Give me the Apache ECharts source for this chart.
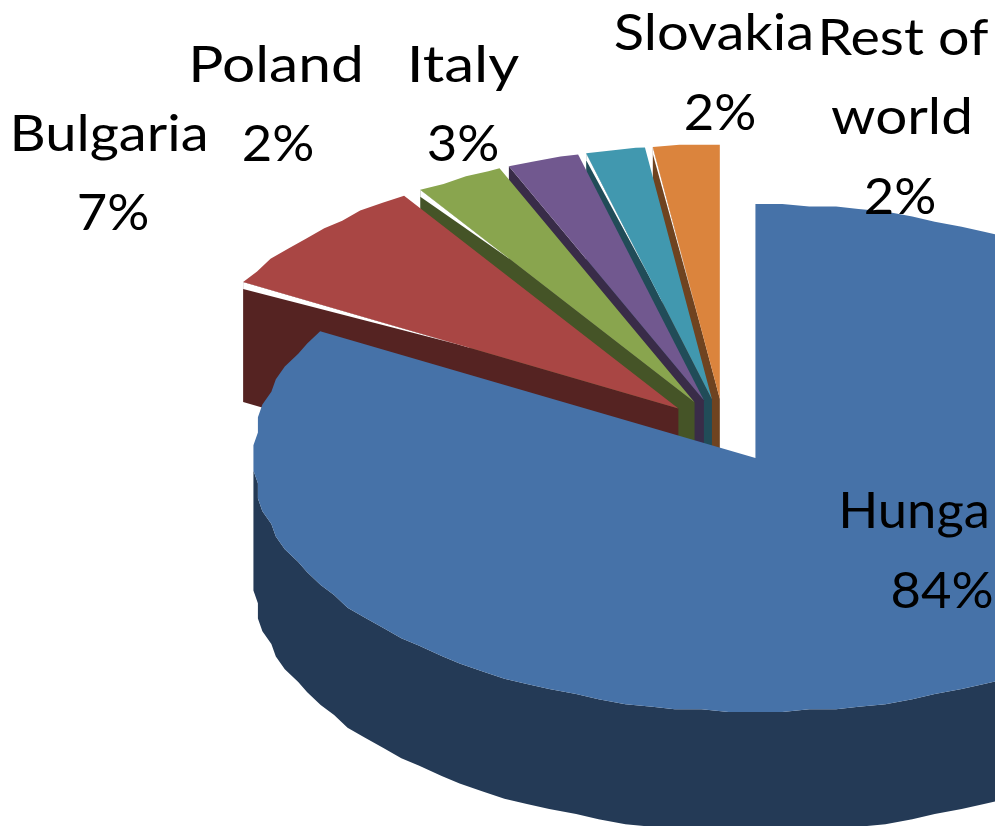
<!DOCTYPE html>
<html>
<head>
<meta charset="utf-8">
<style>
  html, body { margin: 0; padding: 0; background: #fff; overflow: hidden; }
  #chart { width: 995px; height: 826px; }
</style>
<script src="https://cdn.jsdelivr.net/npm/echarts@6/dist/echarts.min.js"></script>
</head>
<body>
<div id="chart"></div>
<script>
// data (the share labels are rounded, the slices are not)
let categories = ["Hunga", "Bulgaria", "Poland", "Italy", "Slovakia", "Rest of\nworld"];
let sliceValues = [83.3, 7.5, 2.85, 2.32, 1.9, 2.13];
let shareLabels = ["84%", "7%", "2%", "3%", "2%", "2%"];

// colours, top face then side face
let topColors = ["#4672a8", "#a94644", "#89a54e", "#71588f", "#4198af", "#db843d"];
let sideColors = ["#243a56", "#552322", "#455427", "#392c48", "#214c58", "#6f4320"];

// label lines: [center x, baseline y, width stretch] for every line of a label
let labelSpots = [
  [[914, 527, 1.03], [942, 607, 1.03]],
  [[109, 150, 1.1], [113, 229, 1.03]],
  [[276, 81, 1.15], [278, 160, 1.03]],
  [[463, 81, 1.18], [463, 160, 1.03]],
  [[714, 49, 1.1], [720, 129, 1.03]],
  [[903, 54, 1.09], [902, 133, 1.11], [900, 213, 1.03]]
];

// how far along the cut edge the white sliver runs
let sliverLength = [0, 0.49, 0.33, 0, 0.5, 0.7];

// pie look
let pieX = 724, pieY = 430.4, radX = 502, radY = 254;
let explode = 0.125, depth = 120, arcStep = 3;
let gridX = 112, gridY = 100; // the rim is stepped, not a clean ellipse
let fontSize = 51, baselineDrop = 10;

let d = document;
let chart = echarts.init(d.getElementById("chart"), null, { renderer: "canvas" });

let total = sliceValues.reduce((a, b) => a + b, 0);
let slices = [];
let acc = 0;
sliceValues.forEach((v, i) => {
  let start = acc / total * 360;
  acc += v;
  let end = acc / total * 360;
  let mid = (start + end) / 2 * Math.PI / 180;
  slices.push({
    start: start,
    end: end,
    apexX: pieX + explode * radX * Math.sin(mid),
    apexY: pieY - explode * radY * Math.cos(mid)
  });
});

function onRim(s, ang, down, stepped) {
  let a = ang * Math.PI / 180;
  let sx = Math.sin(a), cy = Math.cos(a);
  if (stepped) {
    sx = Math.round(sx * gridX) / gridX;
    cy = Math.round(cy * gridY) / gridY;
  }
  return [s.apexX + radX * sx, s.apexY - radY * cy + (down || 0)];
}

function rim(s, from, to, down) {
  let pts = [onRim(s, from, down)];
  let ang = from + arcStep;
  while (ang < to) {
    pts.push(onRim(s, ang, down, true));
    ang += arcStep;
  }
  pts.push(onRim(s, to, down));
  return pts;
}

function poly(points, fill) {
  return { type: "polygon", shape: { points: points }, style: { fill: fill }, silent: true };
}

function drawSlice(i) {
  let s = slices[i];
  let kids = [];

  // cut face on the start edge, the next slice covers most of it
  let outer = onRim(s, s.start);
  kids.push(poly([
    [s.apexX, s.apexY], outer,
    [outer[0], outer[1] + depth], [s.apexX, s.apexY + depth]
  ], sideColors[i]));

  // outer wall, only the front half shows
  let from = Math.max(s.start, 90), to = Math.min(s.end, 270);
  if (from < to) {
    let wall = rim(s, from, to, 0).concat(rim(s, from, to, depth).reverse());
    kids.push(poly(wall, sideColors[i]));
  }

  // thin white sliver between top and cut face
  if (sliverLength[i] > 0) {
    let f = sliverLength[i];
    kids.push(poly([
      outer, [outer[0], outer[1] + 7],
      [outer[0] + (s.apexX - outer[0]) * f, outer[1] + (s.apexY - outer[1]) * f]
    ], "#fff"));
  }

  // top
  kids.push(poly([[s.apexX, s.apexY]].concat(rim(s, s.start, s.end)), topColors[i]));
  return kids;
}

function drawLabels() {
  let kids = [];
  categories.forEach((name, i) => {
    let lines = name.split("\n").concat(shareLabels[i]);
    lines.forEach((line, j) => {
      let spot = labelSpots[i][j];
      kids.push({
        type: "text",
        x: spot[0],
        y: spot[1] + baselineDrop,
        scaleX: spot[2],
        silent: true,
        style: {
          text: line,
          fill: "#000",
          font: fontSize + 'px Lato',
          textAlign: "center",
          textVerticalAlign: "bottom"
        }
      });
    });
  });
  return kids;
}

// back to front: the last slice sits at the back, Hungary in front
let drawOrder = [5, 4, 3, 2, 1, 0];

chart.setOption({
  animation: false,
  backgroundColor: "#fff",
  series: [{
    type: "custom",
    coordinateSystem: "none",
    data: drawOrder,
    renderItem: (params, api) => {
      let i = api.value(0);
      let kids = drawSlice(i);
      if (params.dataIndex === drawOrder.length - 1) {
        kids = kids.concat(drawLabels());
      }
      return { type: "group", children: kids };
    }
  }]
});
</script>
</body>
</html>
